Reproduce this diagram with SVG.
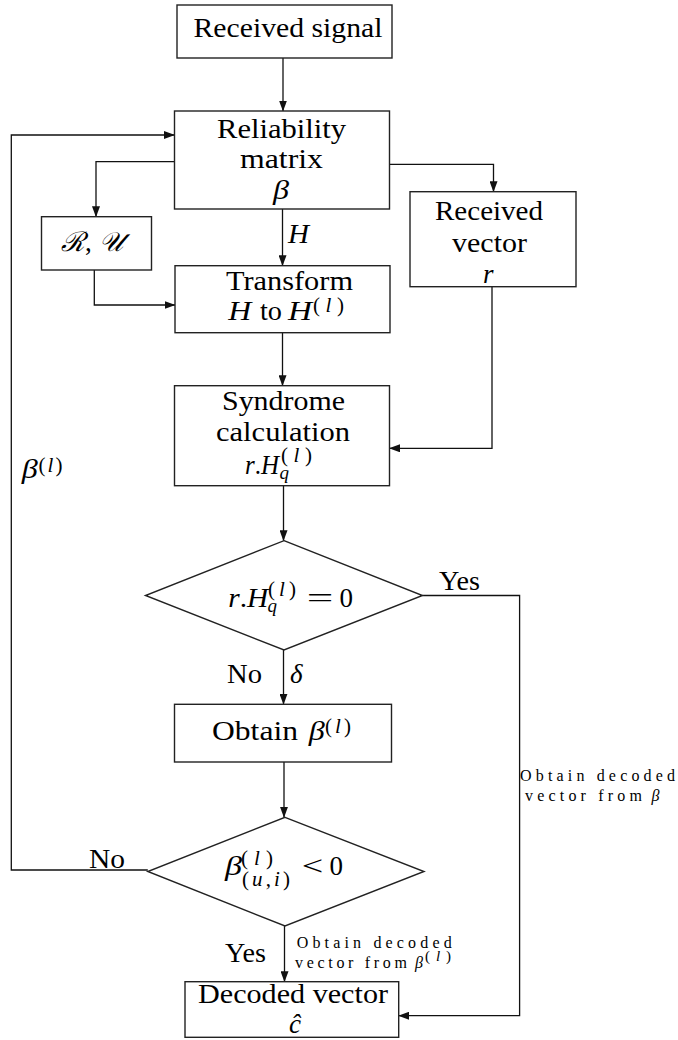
<svg xmlns="http://www.w3.org/2000/svg" width="678" height="1040" viewBox="0 0 678 1040">
<defs>
<marker id="ah" markerUnits="userSpaceOnUse" markerWidth="11" markerHeight="8" refX="10.5" refY="4" orient="auto">
<path d="M0,0 L11,4 L0,8 z" fill="#111"/>
</marker>
<style>
.box{fill:#fff;stroke:#222;stroke-width:1.4}
.ln{fill:none;stroke:#111;stroke-width:1.3;marker-end:url(#ah)}
text{font-family:"Liberation Serif","DejaVu Serif",serif;fill:#000}
.t{font-size:27px}
.m{font-style:italic;font-size:27px}
.s{font-style:italic;font-size:19px}
.sr{font-size:21px}
.sm{font-size:16px}
.smi{font-style:italic;font-size:16px}
.ss{font-size:15px}
</style>
</defs>
<g id="connectors">
<path class="ln" d="M283,58 V111"/>
<path class="ln" d="M147.8,870 H11.3 V135 H174.5"/>
<path class="ln" d="M174.5,161.7 H96 V216.7"/>
<path class="ln" d="M389.5,164.3 H493.5 V191.7"/>
<path class="ln" d="M282.5,209 V265.7"/>
<path class="ln" d="M94.3,270 V305 H175"/>
<path class="ln" d="M492,286.7 V448.3 H389.5"/>
<path class="ln" d="M282.5,332.7 V385.7"/>
<path class="ln" d="M283.5,485.7 V540.7"/>
<path class="ln" d="M283.5,650 V704.3"/>
<path class="ln" d="M422.5,595.5 H519.6 V1015.7 H398.7"/>
<path class="ln" d="M284,762 V817.3"/>
<path class="ln" d="M284.5,926 V981.7"/>
<text class="m" x="288" y="243" textLength="21" lengthAdjust="spacingAndGlyphs">H</text>
<text class="t" x="227" y="683" textLength="35" lengthAdjust="spacingAndGlyphs">No</text>
<text class="m" x="290" y="683">δ</text>
<text class="t" x="439" y="590" textLength="41" lengthAdjust="spacingAndGlyphs">Yes</text>
<text class="t" x="89" y="867.7" textLength="36" lengthAdjust="spacingAndGlyphs">No</text>
<text class="t" x="225" y="961.7" textLength="41" lengthAdjust="spacingAndGlyphs">Yes</text>
<text class="m" x="21.7" y="478" textLength="16" lengthAdjust="spacingAndGlyphs">β</text>
<text class="sr" x="38.5" y="472" textLength="24" lengthAdjust="spacing">(<tspan font-style="italic">l</tspan>)</text>
<text class="sm" x="520" y="780.7" textLength="155" lengthAdjust="spacing">Obtain decoded</text>
<text class="sm" x="525" y="800.7" textLength="117" lengthAdjust="spacing">vector from</text>
<text class="smi" x="651.5" y="800.7">β</text>
<text class="sm" x="296.7" y="948.3" textLength="155" lengthAdjust="spacing">Obtain decoded</text>
<text class="sm" x="295" y="968.3" textLength="112" lengthAdjust="spacing">vector from</text>
<text class="smi" x="415" y="968.3">β</text>
<text class="ss" x="425" y="961" textLength="26" lengthAdjust="spacing">(<tspan font-style="italic">l</tspan>)</text>
</g>
<g id="received-signal">
<rect class="box" x="177" y="5" width="215" height="53"/>
<text class="t" x="193.5" y="37" textLength="189" lengthAdjust="spacingAndGlyphs">Received signal</text>
</g>
<g id="reliability-matrix">
<rect class="box" x="174.5" y="111" width="215" height="98"/>
<text class="t" x="217" y="138" textLength="129" lengthAdjust="spacingAndGlyphs">Reliability</text>
<text class="t" x="240" y="168" textLength="83" lengthAdjust="spacingAndGlyphs">matrix</text>
<text class="m" x="273" y="199" textLength="16" lengthAdjust="spacingAndGlyphs">β</text>
</g>
<g id="ru">
<rect class="box" x="41.5" y="216.7" width="110" height="53.3"/>
<text class="m" x="61" y="250.7">ℛ<tspan font-style="normal">,</tspan> 𝒰</text>
</g>
<g id="received-vector">
<rect class="box" x="410" y="191.7" width="166" height="95"/>
<text class="t" x="435" y="220" textLength="108" lengthAdjust="spacingAndGlyphs">Received</text>
<text class="t" x="452" y="251.7" textLength="75" lengthAdjust="spacingAndGlyphs">vector</text>
<text class="m" x="483" y="283">r</text>
</g>
<g id="transform">
<rect class="box" x="175" y="265.7" width="215" height="67"/>
<text class="t" x="226" y="290" textLength="127" lengthAdjust="spacingAndGlyphs">Transform</text>
<text class="m" x="228.3" y="320" textLength="23" lengthAdjust="spacingAndGlyphs">H</text>
<text class="t" x="260" y="320" textLength="22" lengthAdjust="spacingAndGlyphs">to</text>
<text class="m" x="288" y="320" textLength="24" lengthAdjust="spacingAndGlyphs">H</text>
<text class="sr" x="313" y="312" textLength="31" lengthAdjust="spacing">(<tspan font-style="italic">l</tspan>)</text>
</g>
<g id="syndrome">
<rect class="box" x="174.5" y="385.7" width="215" height="100"/>
<text class="t" x="222" y="410" textLength="123" lengthAdjust="spacingAndGlyphs">Syndrome</text>
<text class="t" x="216" y="440.7" textLength="134" lengthAdjust="spacingAndGlyphs">calculation</text>
<text class="m" x="245" y="473.5" textLength="34" lengthAdjust="spacingAndGlyphs">r<tspan font-style="normal">.</tspan>H</text>
<text class="s" x="279.5" y="479">q</text>
<text class="sr" x="281" y="462" textLength="31" lengthAdjust="spacing">(<tspan font-style="italic">l</tspan>)</text>
</g>
<g id="check-syndrome">
<polygon class="box" points="284,540.7 422.5,595.5 284,650 145.5,595.5"/>
<text class="m" x="228.3" y="606.7" textLength="40" lengthAdjust="spacingAndGlyphs">r<tspan font-style="normal">.</tspan>H</text>
<text class="s" x="267.5" y="612">q</text>
<text class="sr" x="268" y="596" textLength="28" lengthAdjust="spacing">(<tspan font-style="italic">l</tspan>)</text>
<text class="t" x="306.7" y="606.7" textLength="26.6" lengthAdjust="spacingAndGlyphs">=</text>
<text class="t" x="339.5" y="606.7">0</text>
</g>
<g id="obtain-beta">
<rect class="box" x="174.5" y="704.3" width="217" height="57.7"/>
<text class="t" x="212" y="740" textLength="86" lengthAdjust="spacingAndGlyphs">Obtain</text>
<text class="m" x="308.7" y="740" textLength="16" lengthAdjust="spacingAndGlyphs">β</text>
<text class="sr" x="325" y="733" textLength="26" lengthAdjust="spacing">(<tspan font-style="italic">l</tspan>)</text>
</g>
<g id="check-beta">
<polygon class="box" points="285,817.3 424,871.5 285,926 147.8,871.5"/>
<text class="m" x="225" y="875" textLength="17" lengthAdjust="spacingAndGlyphs">β</text>
<text class="sr" x="241" y="865" textLength="32" lengthAdjust="spacing">(<tspan font-style="italic">l</tspan>)</text>
<text class="sr" x="242" y="886" textLength="48" lengthAdjust="spacing">(<tspan font-style="italic">u</tspan>,<tspan font-style="italic">i</tspan>)</text>
<text class="t" x="301.7" y="875" textLength="21.5" lengthAdjust="spacingAndGlyphs">&lt;</text>
<text class="t" x="329.5" y="875">0</text>
</g>
<g id="decoded-vector">
<rect class="box" x="185" y="981.7" width="213.7" height="55.6"/>
<text class="t" x="198" y="1002.7" textLength="190" lengthAdjust="spacingAndGlyphs">Decoded vector</text>
<text class="m" x="289" y="1033">ĉ</text>
</g>
</svg>
